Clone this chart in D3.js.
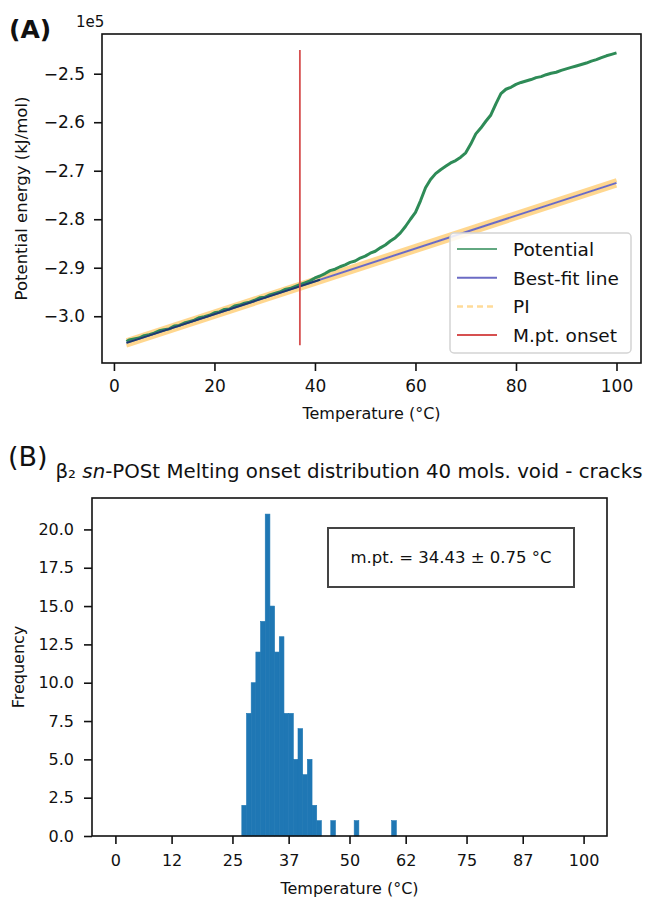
<!DOCTYPE html>
<html>
<head>
<meta charset="utf-8">
<script src="https://cdn.jsdelivr.net/npm/d3@7"></script>
<style>
body { margin: 0; background: #fff; }
text { font-family: "DejaVu Sans", sans-serif; fill: #111; }
</style>
</head>
<body>
<div id="chart"></div>
<script>
// ---- panel A data (potential energy in units of 1e5 kJ/mol) ----
var tempA = [2.5, 3, 4, 5, 6, 7, 8, 9, 10, 11, 12, 13, 14, 15, 16, 17, 18, 19, 20,
    21, 22, 23, 24, 25, 26, 27, 28, 29, 30, 31, 32, 33, 34, 35, 36, 37, 38, 39, 40,
    41, 42, 43, 44, 45, 46, 47, 48, 49, 50, 51, 52, 53, 54, 55, 56, 57, 58, 59, 60,
    61, 62, 63, 64, 65, 66, 67, 68, 69, 70, 71, 72, 73, 74, 75, 76, 77, 78, 79, 80,
    81, 82, 83, 84, 85, 86, 87, 88, 89, 90, 91, 92, 93, 94, 95, 96, 97, 98, 99, 100];
var potential = [-3.052, -3.049, -3.047, -3.045, -3.040, -3.038, -3.035, -3.030, -3.028,
    -3.026, -3.020, -3.019, -3.014, -3.011, -3.008, -3.003, -3.001, -2.998, -2.993,
    -2.991, -2.986, -2.985, -2.979, -2.977, -2.973, -2.971, -2.967, -2.962, -2.961,
    -2.956, -2.953, -2.950, -2.945, -2.943, -2.939, -2.935, -2.931, -2.927, -2.921,
    -2.917, -2.912, -2.906, -2.903, -2.898, -2.894, -2.889, -2.886, -2.880, -2.876,
    -2.870, -2.866, -2.859, -2.853, -2.845, -2.838, -2.828, -2.815, -2.800, -2.786,
    -2.762, -2.735, -2.718, -2.706, -2.698, -2.691, -2.684, -2.679, -2.672, -2.663,
    -2.645, -2.624, -2.612, -2.598, -2.585, -2.562, -2.541, -2.532, -2.528, -2.522,
    -2.518, -2.515, -2.512, -2.508, -2.506, -2.502, -2.499, -2.497, -2.493, -2.490,
    -2.487, -2.484, -2.481, -2.478, -2.474, -2.471, -2.467, -2.463, -2.460, -2.457];
var fitTemps = [2.5, 100];
var fitValues = [-3.055, -2.725];
var fitRange = [2.5, 41];
var piHalf = 0.0055;
var onsetTemp = 37;
var onsetSpan = [-3.060, -2.451];
var legendLabels = ["Potential", "Best-fit line", "PI", "M.pt. onset"];
var xTicksA = [0, 20, 40, 60, 80, 100];
var yTicksA = [-3.0, -2.9, -2.8, -2.7, -2.6, -2.5];
var xDomainA = [-2.375, 104.875];
var yDomainA = [-3.0964, -2.4181];

// ---- panel B data (melting onset histogram) ----
var binStart = 27;
var binWidth = 1;
var counts = [2, 8, 10, 12, 14, 21, 15, 12, 13, 8, 8, 5, 7, 4, 5, 2, 1,
    0, 0, 1, 0, 0, 0, 0, 1, 0, 0, 0, 0, 0, 0, 0, 1];
var xTicksB = [0, 12, 25, 37, 50, 62, 75, 87, 100];
var yTicksB = [0, 2.5, 5, 7.5, 10, 12.5, 15, 17.5, 20];
var xDomainB = [-5, 105];
var yDomainB = [0, 22.05];
var meltMean = 34.43, meltErr = 0.75;

var svg = d3.select("#chart").append("svg")
    .attr("width", 648)
    .attr("height", 898)
    .style("background", "#fff");

// =========== PANEL A ===========
var boxA = {left: 102, top: 34, right: 641, bottom: 363};
var xA = d3.scaleLinear().domain(xDomainA).range([boxA.left, boxA.right]);
var yA = d3.scaleLinear().domain(yDomainA).range([boxA.bottom, boxA.top]);
var fitLine = d3.scaleLinear().domain(fitTemps).range(fitValues);

var gA = svg.append("g").attr("id", "panelA");

// PI band
[piHalf, -piHalf].forEach(function(off){
    gA.append("path")
        .datum(fitTemps)
        .attr("fill", "none")
        .attr("stroke", "#ffb733")
        .attr("stroke-opacity", 0.55)
        .attr("stroke-width", 4)
        .attr("d", d3.line()
            .x(function(t){ return xA(t); })
            .y(function(t){ return yA(fitLine(t) + off); }));
});

// potential
gA.append("path")
    .datum(d3.zip(tempA, potential))
    .attr("fill", "none")
    .attr("stroke", "#2e8b57")
    .attr("stroke-width", 3)
    .attr("stroke-linejoin", "round")
    .attr("d", d3.line()
        .x(function(d){ return xA(d[0]); })
        .y(function(d){ return yA(d[1]); }));

// best-fit line
gA.append("path")
    .datum(fitTemps)
    .attr("fill", "none")
    .attr("stroke", "#6b6bc4")
    .attr("stroke-width", 2)
    .attr("d", d3.line()
        .x(function(t){ return xA(t); })
        .y(function(t){ return yA(fitLine(t)); }));
// where fit overlaps the data it shows dark
gA.append("path")
    .datum(fitRange)
    .attr("fill", "none")
    .attr("stroke", "#1d3c6c")
    .attr("stroke-width", 2)
    .attr("d", d3.line()
        .x(function(t){ return xA(t); })
        .y(function(t){ return yA(fitLine(t)); }));

// onset line
gA.append("line")
    .attr("x1", xA(onsetTemp)).attr("x2", xA(onsetTemp))
    .attr("y1", yA(onsetSpan[0])).attr("y2", yA(onsetSpan[1]))
    .attr("stroke", "#d65050")
    .attr("stroke-width", 1.8);

// axes
var axA_x = gA.append("g")
    .attr("transform", "translate(0," + boxA.bottom + ")")
    .call(d3.axisBottom(xA).tickValues(xTicksA).tickSize(8).tickPadding(9).tickFormat(d3.format("d")));
var axA_y = gA.append("g")
    .attr("transform", "translate(" + boxA.left + ",0)")
    .call(d3.axisLeft(yA).tickValues(yTicksA).tickSize(8).tickPadding(9).tickFormat(d3.format(".1f")));
[axA_x, axA_y].forEach(function(a){
    a.select(".domain").remove();
    a.selectAll(".tick line").attr("stroke", "#111").attr("stroke-width", 1.6);
    a.selectAll(".tick text").attr("font-size", "17px").attr("font-family", "DejaVu Sans").attr("fill", "#111");
});

gA.append("rect")
    .attr("x", boxA.left).attr("y", boxA.top)
    .attr("width", boxA.right - boxA.left).attr("height", boxA.bottom - boxA.top)
    .attr("fill", "none").attr("stroke", "#111").attr("stroke-width", 1.6);

gA.append("text").attr("x", 76).attr("y", 27).attr("font-size", "15px").text("1e5");
gA.append("text")
    .attr("x", (boxA.left + boxA.right) / 2).attr("y", 419)
    .attr("text-anchor", "middle").attr("font-size", "16px")
    .text("Temperature (°C)");
gA.append("text")
    .attr("transform", "translate(27," + (boxA.top + boxA.bottom) / 2 + ") rotate(-90)")
    .attr("text-anchor", "middle").attr("font-size", "16.5px")
    .text("Potential energy (kJ/mol)");
gA.append("text")
    .attr("x", 9).attr("y", 38)
    .attr("font-family", "Liberation Sans, Arial, sans-serif")
    .attr("font-weight", "bold").attr("font-size", "25px")
    .text("(A)");

// legend
var leg = gA.append("g").attr("transform", "translate(450,233)");
leg.append("rect")
    .attr("width", 181).attr("height", 120).attr("rx", 4)
    .attr("fill", "#fff").attr("fill-opacity", 0.85)
    .attr("stroke", "#d4d4d4").attr("stroke-width", 1.5);
var legStyles = [
    {stroke: "#2e8b57", width: 1.6, dash: null, opacity: 1},
    {stroke: "#6b6bc4", width: 2, dash: null, opacity: 1},
    {stroke: "#ffb733", width: 2.5, dash: "6,4", opacity: 0.5},
    {stroke: "#d65050", width: 2, dash: null, opacity: 1}
];
legendLabels.forEach(function(lab, i){
    var cy = 16 + i * 28.7;
    leg.append("line")
        .attr("x1", 7).attr("x2", 47).attr("y1", cy).attr("y2", cy)
        .attr("stroke", legStyles[i].stroke)
        .attr("stroke-width", legStyles[i].width)
        .attr("stroke-opacity", legStyles[i].opacity)
        .attr("stroke-dasharray", legStyles[i].dash);
    leg.append("text")
        .attr("x", 63).attr("y", cy + 7)
        .attr("font-size", "18.5px")
        .text(lab);
});

// =========== PANEL B ===========
var boxB = {left: 92, top: 498, right: 607, bottom: 836};
var xB = d3.scaleLinear().domain(xDomainB).range([boxB.left, boxB.right]);
var yB = d3.scaleLinear().domain(yDomainB).range([boxB.bottom, boxB.top]);
var gB = svg.append("g").attr("id", "panelB");

var bins = counts.map(function(c, i){
    return {x0: binStart + i * binWidth, x1: binStart + (i + 1) * binWidth, count: c};
}).filter(function(b){ return b.count > 0; });

gB.selectAll("rect.bar")
    .data(bins)
    .enter()
    .append("rect")
    .attr("class", "bar")
    .attr("x", function(d){ return xB(d.x0); })
    .attr("width", function(d){ return xB(d.x1) - xB(d.x0); })
    .attr("y", function(d){ return yB(d.count); })
    .attr("height", function(d){ return yB(0) - yB(d.count); })
    .attr("fill", "#1f77b4")
    .attr("stroke", "#1f77b4")
    .attr("stroke-width", 0.6);

var axB_x = gB.append("g")
    .attr("transform", "translate(0," + boxB.bottom + ")")
    .call(d3.axisBottom(xB).tickValues(xTicksB).tickSize(8).tickPadding(11).tickFormat(d3.format("d")));
var axB_y = gB.append("g")
    .attr("transform", "translate(" + boxB.left + ",0)")
    .call(d3.axisLeft(yB).tickValues(yTicksB).tickSize(8).tickPadding(10).tickFormat(d3.format(".1f")));
[axB_x, axB_y].forEach(function(a){
    a.select(".domain").remove();
    a.selectAll(".tick line").attr("stroke", "#111").attr("stroke-width", 1.6);
    a.selectAll(".tick text").attr("font-size", "16px").attr("font-family", "DejaVu Sans").attr("fill", "#111");
});

gB.append("rect")
    .attr("x", boxB.left).attr("y", boxB.top)
    .attr("width", boxB.right - boxB.left).attr("height", boxB.bottom - boxB.top)
    .attr("fill", "none").attr("stroke", "#111").attr("stroke-width", 1.6);

// stats box
gB.append("rect")
    .attr("x", 328).attr("y", 528).attr("width", 246).attr("height", 59)
    .attr("fill", "#fff").attr("stroke", "#444").attr("stroke-width", 2);
gB.append("text")
    .attr("x", 451).attr("y", 563)
    .attr("text-anchor", "middle").attr("font-size", "16.5px")
    .text("m.pt. = " + meltMean.toFixed(2) + " ± " + meltErr.toFixed(2) + " °C");

var title = gB.append("text")
    .attr("x", 349).attr("y", 478)
    .attr("text-anchor", "middle").attr("font-size", "19.8px");
title.append("tspan").text("β₂ ");
title.append("tspan").attr("font-style", "italic").text("sn");
title.append("tspan").text("-POSt Melting onset distribution 40 mols. void - cracks");

gB.append("text")
    .attr("x", 8).attr("y", 466)
    .attr("font-family", "Liberation Sans, Arial, sans-serif")
    .attr("font-size", "27px")
    .text("(B)");
gB.append("text")
    .attr("x", (boxB.left + boxB.right) / 2).attr("y", 894)
    .attr("text-anchor", "middle").attr("font-size", "16px")
    .text("Temperature (°C)");
gB.append("text")
    .attr("transform", "translate(24," + (boxB.top + boxB.bottom) / 2 + ") rotate(-90)")
    .attr("text-anchor", "middle").attr("font-size", "16px")
    .text("Frequency");
</script>
</body>
</html>
